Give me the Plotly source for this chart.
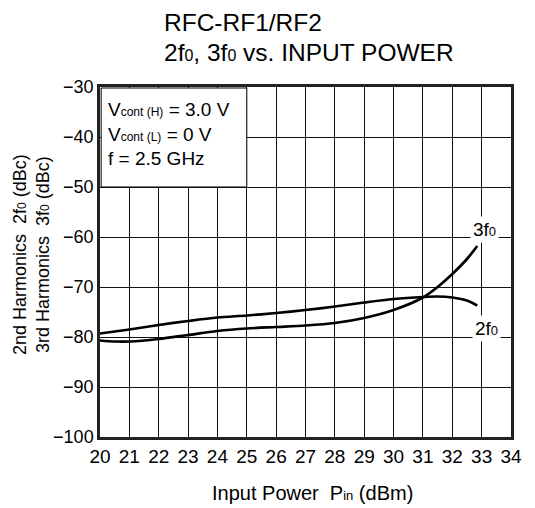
import plotly.graph_objects as go

# Data
x_2f0 = [20, 21, 22, 23, 24, 25, 26, 27, 28, 29, 30, 31, 31.5, 32, 32.5, 32.85]
y_2f0 = [-79.3, -78.5, -77.6, -76.8, -76.1, -75.7, -75.2, -74.6, -73.9, -73.1, -72.4, -72.0, -71.9, -72.1, -72.7, -73.7]

x_3f0 = [20, 20.5, 21, 22, 23, 24, 25, 26, 27, 28, 29, 30, 31, 31.5, 32, 32.5, 32.85]
y_3f0 = [-80.7, -80.9, -80.9, -80.4, -79.6, -78.8, -78.3, -78.0, -77.7, -77.2, -76.2, -74.6, -72.1, -70.0, -67.4, -64.4, -61.8]

x_ticks = list(range(20, 35))
y_ticks = list(range(-100, -29, 10))

FONT = "Liberation Sans, Arial, Helvetica, sans-serif"


def small(t, size=12):
    return '<span style="font-size:%dpx">%s</span>' % (size, t)


fig = go.Figure()
for xs, ys in ((x_2f0, y_2f0), (x_3f0, y_3f0)):
    fig.add_trace(go.Scatter(x=xs, y=ys, mode="lines",
                             line=dict(color="black", width=2.7, shape="spline", smoothing=0.8),
                             showlegend=False, hoverinfo="skip"))

# white condition box
fig.add_shape(type="rect", xref="x", yref="y", x0=20.04, x1=25, y0=-50, y1=-30.2,
              fillcolor="white", line=dict(color="black", width=1), layer="above")

cond = ("V" + small("cont (H)") + " = 3.0 V<br>"
        "V" + small("cont (L)") + " = 0 V<br>"
        "f = 2.5 GHz")
fig.add_annotation(x=20.2, y=-31.9, xref="x", yref="y", text=cond, showarrow=False,
                   xanchor="left", yanchor="top", align="left",
                   font=dict(family=FONT, size=19, color="black"))

# curve labels
fig.add_annotation(x=33.1, y=-58.5, xref="x", yref="y",
                   text="3f" + small("0", 13), showarrow=False, bgcolor="white",
                   font=dict(family=FONT, size=19, color="black"), borderpad=2)
fig.add_annotation(x=33.15, y=-78.3, xref="x", yref="y",
                   text="2f" + small("0", 13), showarrow=False, bgcolor="white",
                   font=dict(family=FONT, size=19, color="black"), borderpad=2)

# pixel positions in the screenshot (page has an 8px body margin)
OFF = 8
W, H = 535 - OFF, 508 - OFF
L, R, T, B = 100 - OFF, 24, 87 - OFF, 71
PW, PH = W - L - R, H - T - B


def px(xp):
    return (xp - OFF - L) / PW


def py(yp):
    return 1 - (yp - OFF - T) / PH


# title
fig.add_annotation(x=px(162), y=py(22), xref="paper", yref="paper", text="RFC-RF1/RF2",
                   showarrow=False, xanchor="left", yanchor="middle",
                   font=dict(family=FONT, size=24.5, color="black"))
fig.add_annotation(x=px(162), y=py(52.5), xref="paper", yref="paper",
                   text="2f" + small("0", 16) + ", 3f" + small("0", 16) + " vs. INPUT POWER",
                   showarrow=False, xanchor="left", yanchor="middle",
                   font=dict(family=FONT, size=24.5, color="black"))

# axis titles
fig.add_annotation(x=px(312), y=py(493), xref="paper", yref="paper",
                   text="Input Power  P" + small("in", 13) + " (dBm)",
                   showarrow=False, xanchor="center", yanchor="middle",
                   font=dict(family=FONT, size=20, color="black"))
fig.add_annotation(x=px(31), y=py(255), xref="paper", yref="paper",
                   text="2nd Harmonics  2f" + small("0") + " (dBc)<br>3rd Harmonics  3f" + small("0") + " (dBc)",
                   textangle=-90, showarrow=False, xanchor="center", yanchor="middle",
                   font=dict(family=FONT, size=18, color="black"))

fig.update_layout(
    width=W, height=H,
    margin=dict(l=L, r=R, t=T, b=B),
    paper_bgcolor="white", plot_bgcolor="white",
    font=dict(family=FONT, size=19, color="black"),
)
fig.update_xaxes(range=[20, 34], tickvals=x_ticks, ticktext=[str(v) for v in x_ticks],
                 showgrid=True, gridcolor="#111", gridwidth=1,
                 showline=True, linecolor="#222", linewidth=2.5, mirror=True,
                 ticks="", tickfont=dict(size=19), zeroline=False, fixedrange=True)
fig.update_yaxes(range=[-100, -30], tickvals=y_ticks,
                 showgrid=True, gridcolor="#111", gridwidth=1,
                 showline=True, linecolor="#222", linewidth=2.5, mirror=True,
                 ticks="", tickfont=dict(size=18), zeroline=False, fixedrange=True)

fig.write_html("out.html")
